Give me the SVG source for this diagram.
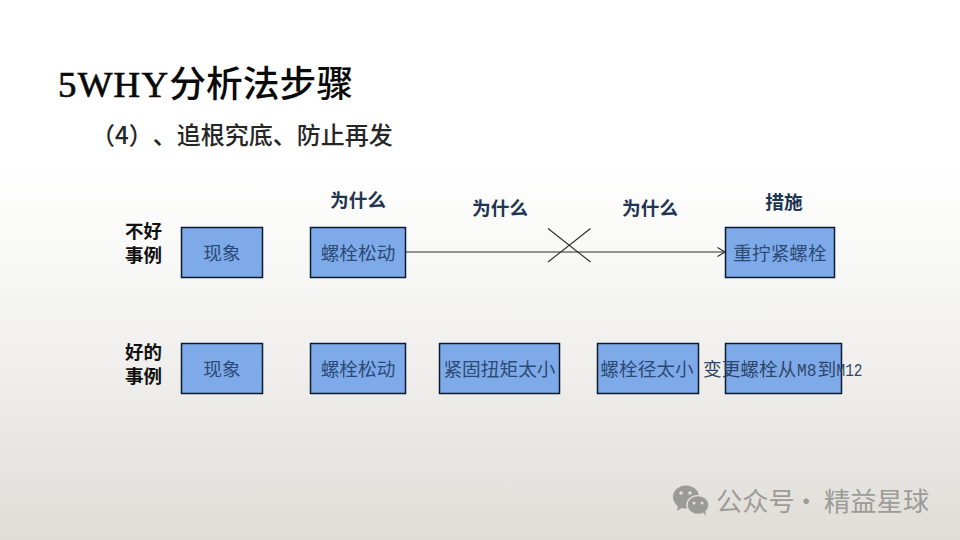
<svg xmlns="http://www.w3.org/2000/svg" width="960" height="540" viewBox="0 0 960 540">
<style>
text{text-spacing-trim:space-all}
.cjk{font-family:"Noto Sans CJK SC","Liberation Sans",sans-serif}
.box{fill:#7eaaea;stroke:#0c1a30;stroke-width:1.5}
.bt{font-family:"Noto Sans CJK SC",sans-serif;font-size:18.7px;font-weight:400;fill:#2c4a75;text-anchor:middle}
.why{font-family:"Noto Sans CJK SC",sans-serif;font-size:18.7px;font-weight:700;fill:#1f3552;text-anchor:middle}
.side{font-family:"Noto Sans CJK SC",sans-serif;font-size:18.5px;font-weight:700;fill:#111;text-anchor:middle}
.ln{stroke:#2a2a2a;stroke-width:1.1;fill:none}
.mono{font-family:"Liberation Mono",monospace;font-size:18.7px}
.wm{font-family:"Noto Sans CJK SC",sans-serif;font-size:26.300px;font-weight:400;fill:#9c9b98}
</style>
<defs>
<linearGradient id="bg" x1="0" y1="0" x2="0" y2="1">
<stop offset="0" stop-color="#fff"/><stop offset="0.3" stop-color="#fff"/><stop offset="0.5" stop-color="#f7f7f6"/><stop offset="0.75" stop-color="#ecebe8"/><stop offset="1" stop-color="#e0ddd8"/>
</linearGradient>
<marker id="arr" markerWidth="10" markerHeight="12" refX="8.500" refY="5.500" orient="auto" markerUnits="userSpaceOnUse"><path d="M1 1L8.500 5.500L1 10" fill="none" stroke="#2a2a2a" stroke-width="1.100"/></marker>
</defs>
<rect width="960" height="540" fill="url(#bg)"/>
<text id="title" x="58" y="97" font-size="36.800" fill="#0a0a0a" font-family="'Liberation Serif','Noto Sans CJK SC',serif"><tspan textLength="110" lengthAdjust="spacing" stroke="#0a0a0a" stroke-width="0.700">5WHY</tspan><tspan class="cjk" font-weight="500">分析法步骤</tspan></text>
<text id="subtitle" x="91" y="144" font-size="24" font-weight="500" fill="#262626" class="cjk">（4）、追根究底、防止再发</text>
<g id="labels">
<text class="why" x="358" y="207">为什么</text>
<text class="why" x="500" y="215">为什么</text>
<text class="why" x="650" y="215">为什么</text>
<text class="why" x="784" y="209">措施</text>
<text class="side" x="143.500" y="238">不好</text>
<text class="side" x="143.500" y="262">事例</text>
<text class="side" x="143.500" y="359">好的</text>
<text class="side" x="143.500" y="383">事例</text>
</g>
<g id="connectors">
<line class="ln" x1="406" y1="252" x2="725" y2="252" marker-end="url(#arr)"/>
<line class="ln" x1="548" y1="228.500" x2="590.500" y2="262"/>
<line class="ln" x1="590.500" y1="228.500" x2="548" y2="262"/>
</g>
<g id="n1"><rect class="box" x="181.500" y="227.500" width="81" height="50"/><text class="bt" x="222" y="260">现象</text></g>
<g id="n2"><rect class="box" x="310.500" y="227.500" width="95" height="50"/><text class="bt" x="358" y="260">螺栓松动</text></g>
<g id="n3"><rect class="box" x="725.500" y="227.500" width="109" height="50"/><text class="bt" x="780" y="260">重拧紧螺栓</text></g>
<g id="n4"><rect class="box" x="181.500" y="343.500" width="81" height="50"/><text class="bt" x="222" y="376">现象</text></g>
<g id="n5"><rect class="box" x="310.500" y="343.500" width="95" height="50"/><text class="bt" x="358" y="376">螺栓松动</text></g>
<g id="n6"><rect class="box" x="439.500" y="343.500" width="120" height="50"/><text class="bt" x="499.500" y="376">紧固扭矩太小</text></g>
<g id="n7"><rect class="box" x="597.500" y="343.500" width="101" height="50"/><text class="bt" x="647" y="376">螺栓径太小</text></g>
<g id="n8"><rect class="box" x="725.500" y="343.500" width="116" height="50"/><text x="703" y="376" font-size="18.700" fill="#2f4668" class="cjk">变更螺栓从<tspan class="mono" x="797" textLength="19.500" lengthAdjust="spacingAndGlyphs">M8</tspan><tspan x="817.500">到</tspan><tspan class="mono" x="836.500" textLength="26" lengthAdjust="spacingAndGlyphs">M12</tspan></text></g>
<g id="watermark">
<ellipse cx="686" cy="497" rx="13" ry="11.500" fill="#9a9a97"/><path d="M678 505l-1 6 6-4z" fill="#9a9a97"/>
<ellipse cx="698" cy="505" rx="11" ry="9.500" fill="#9a9a97" stroke="#e2dfda" stroke-width="1.500"/><path d="M703 512l3 4-1-6z" fill="#9a9a97"/>
<circle cx="681" cy="493" r="1.800" fill="#e2dfda"/><circle cx="690" cy="493" r="1.800" fill="#e2dfda"/><circle cx="694" cy="503" r="1.500" fill="#e2dfda"/><circle cx="702" cy="503" r="1.500" fill="#e2dfda"/>
<text class="wm" x="716" y="511">公众号</text><text class="wm" x="793" y="511">·</text><text class="wm" x="824" y="511">精益星球</text>
</g>
</svg>
